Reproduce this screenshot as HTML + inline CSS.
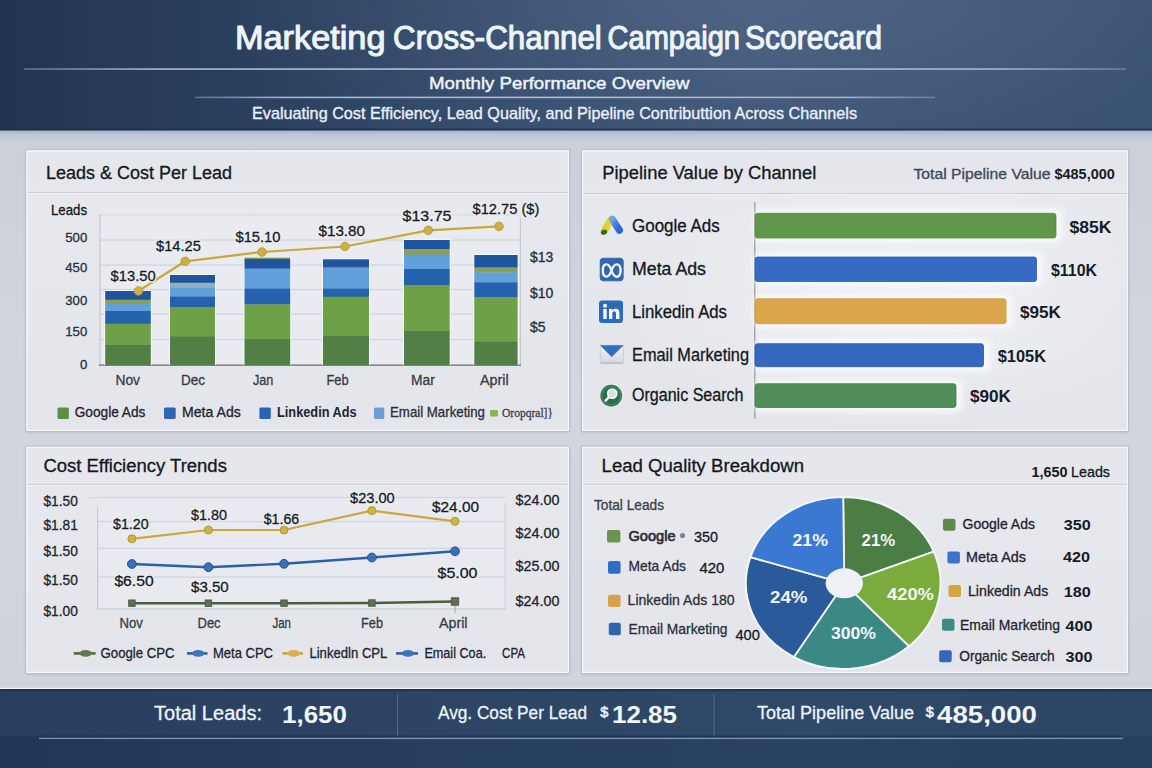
<!DOCTYPE html>
<html><head><meta charset="utf-8"><title>Marketing Cross-Channel Campaign Scorecard</title>
<style>
html,body{margin:0;padding:0;width:1152px;height:768px;overflow:hidden;background:#cfd3dc;font-family:"Liberation Sans", sans-serif;}
svg{display:block;font-family:"Liberation Sans", sans-serif;}
</style></head><body>
<svg width="1152" height="768" viewBox="0 0 1152 768">
<defs>
<linearGradient id="hdr" x1="0" y1="0" x2="1" y2="0">
 <stop offset="0" stop-color="#22344f"/><stop offset="0.2" stop-color="#2a3f5d"/><stop offset="0.45" stop-color="#384f70"/>
 <stop offset="0.65" stop-color="#41587a"/><stop offset="0.85" stop-color="#3e5577"/><stop offset="1" stop-color="#3a5273"/>
</linearGradient>
<radialGradient id="hdrv" cx="0.66" cy="0" r="0.5" gradientTransform="translate(0.66,0) scale(1,2.2) translate(-0.66,0)">
 <stop offset="0" stop-color="#fff" stop-opacity="0.075"/><stop offset="1" stop-color="#fff" stop-opacity="0"/>
</radialGradient>
<linearGradient id="ftr" x1="0" y1="0" x2="1" y2="0">
 <stop offset="0" stop-color="#213659"/><stop offset="0.45" stop-color="#28405f"/><stop offset="0.7" stop-color="#2a4364"/><stop offset="1" stop-color="#27405f"/>
</linearGradient>
<linearGradient id="pg" x1="0" y1="0" x2="0" y2="1">
 <stop offset="0" stop-color="#c6cbd5"/><stop offset="0.5" stop-color="#d2d6df"/><stop offset="1" stop-color="#cdd2db"/>
</linearGradient>
<linearGradient id="panel" x1="0" y1="0" x2="0" y2="1">
 <stop offset="0" stop-color="#e7e9ee"/><stop offset="1" stop-color="#e3e5ea"/>
</linearGradient>
<linearGradient id="hb" x1="0" y1="0" x2="0" y2="1">
 <stop offset="0" stop-color="#a2afc5"/><stop offset="0.35" stop-color="#bfc7d4"/><stop offset="1" stop-color="#c7ccd6" stop-opacity="0"/>
</linearGradient>
<linearGradient id="ftrv" x1="0" y1="0" x2="0" y2="1">
 <stop offset="0" stop-color="#fff" stop-opacity="0.04"/><stop offset="0.6" stop-color="#fff" stop-opacity="0.03"/><stop offset="0.62" stop-color="#000" stop-opacity="0.06"/><stop offset="1" stop-color="#000" stop-opacity="0.08"/>
</linearGradient>
<filter id="glow" x="-10%" y="-60%" width="120%" height="220%"><feGaussianBlur stdDeviation="3"/></filter>
<radialGradient id="pbg" cx="0.55" cy="0.45" r="0.6">
 <stop offset="0" stop-color="#f2f3f6" stop-opacity="0.8"/><stop offset="1" stop-color="#f2f3f6" stop-opacity="0"/>
</radialGradient>
<linearGradient id="hl" x1="0" y1="0" x2="1" y2="0">
 <stop offset="0" stop-color="#8da4c2" stop-opacity="0.5"/><stop offset="0.12" stop-color="#9db2cd"/><stop offset="0.5" stop-color="#abbed7"/><stop offset="0.88" stop-color="#9db2cd"/><stop offset="1" stop-color="#8da4c2" stop-opacity="0.5"/>
</linearGradient>
<filter id="sh" x="-5%" y="-5%" width="110%" height="115%">
 <feDropShadow dx="0" dy="1" stdDeviation="1.5" flood-color="#5a6478" flood-opacity="0.35"/>
</filter>
</defs>
<rect x="0" y="0" width="1152" height="768" fill="url(#pg)"/>

<rect x="0" y="0" width="1152" height="130" fill="url(#hdr)"/>
<rect x="0" y="0" width="1152" height="130" fill="url(#hdrv)"/>
<rect x="0" y="130" width="1152" height="14" fill="url(#hb)"/>
<rect x="0" y="128.6" width="1152" height="2" fill="#1f2f48" opacity="0.85"/>
<rect x="24" y="68.2" width="1102" height="1.7" fill="url(#hl)"/>
<rect x="195" y="96.6" width="740" height="1.6" fill="url(#hl)"/>
<text x="235.0" y="48.5" font-size="33.7" fill="#eef4fb" stroke="#eef4fb" stroke-width="1.1" stroke-linejoin="round" textLength="150.5" lengthAdjust="spacingAndGlyphs">Marketing</text>
<text x="393.1" y="48.5" font-size="33.7" fill="#eef4fb" stroke="#eef4fb" stroke-width="1.1" stroke-linejoin="round" textLength="208.7" lengthAdjust="spacingAndGlyphs">Cross-Channel</text>
<text x="607.5" y="48.5" font-size="33.7" fill="#eef4fb" stroke="#eef4fb" stroke-width="1.1" stroke-linejoin="round" textLength="132.5" lengthAdjust="spacingAndGlyphs">Campaign</text>
<text x="744.9" y="48.5" font-size="33.7" fill="#eef4fb" stroke="#eef4fb" stroke-width="1.1" stroke-linejoin="round" textLength="137.1" lengthAdjust="spacingAndGlyphs">Scorecard</text>
<text x="429" y="89.4" font-size="17" fill="#eef3fa" stroke="#eef3fa" stroke-width="0.45" stroke-linejoin="round" textLength="260.5" lengthAdjust="spacingAndGlyphs">Monthly Performance Overview</text>
<text x="252" y="119.4" font-size="15.7" fill="#e9eff8" stroke="#e9eff8" stroke-width="0.35" stroke-linejoin="round" textLength="605" lengthAdjust="spacingAndGlyphs">Evaluating Cost Efficiency, Lead Quality, and Pipeline Contributtion Across Channels</text>
<rect x="26.3" y="150.3" width="542.8" height="280.7" fill="url(#panel)" filter="url(#sh)"/>
<rect x="26.3" y="150.3" width="542.8" height="41.5" fill="#e5e7ec"/>
<rect x="26.3" y="190.60000000000002" width="542.8" height="1.2" fill="#eef0f3"/>
<rect x="26.3" y="191.8" width="542.8" height="1.3" fill="#cbced7"/>
<rect x="26.3" y="193.10000000000002" width="542.8" height="1.2" fill="#f0f2f6"/>
<rect x="25.8" y="149.8" width="543.8" height="281.7" fill="none" stroke="#b9bec8" stroke-width="1"/>
<rect x="26.900000000000002" y="150.9" width="541.5999999999999" height="279.5" fill="none" stroke="#f6f8fb" stroke-width="1.1"/>
<rect x="582" y="150.3" width="546" height="280.7" fill="url(#panel)" filter="url(#sh)"/>
<rect x="582" y="150.3" width="546" height="42.5" fill="#e5e7ec"/>
<rect x="582" y="191.60000000000002" width="546" height="1.2" fill="#eef0f3"/>
<rect x="582" y="192.8" width="546" height="1.3" fill="#cbced7"/>
<rect x="582" y="194.10000000000002" width="546" height="1.2" fill="#f0f2f6"/>
<rect x="581.5" y="149.8" width="547" height="281.7" fill="none" stroke="#b9bec8" stroke-width="1"/>
<rect x="582.6" y="150.9" width="544.8" height="279.5" fill="none" stroke="#f6f8fb" stroke-width="1.1"/>
<rect x="26.3" y="446.7" width="542.8" height="226.3" fill="url(#panel)" filter="url(#sh)"/>
<rect x="26.3" y="446.7" width="542.8" height="37" fill="#e5e7ec"/>
<rect x="26.3" y="482.5" width="542.8" height="1.2" fill="#eef0f3"/>
<rect x="26.3" y="483.7" width="542.8" height="1.3" fill="#cbced7"/>
<rect x="26.3" y="485.0" width="542.8" height="1.2" fill="#f0f2f6"/>
<rect x="25.8" y="446.2" width="543.8" height="227.3" fill="none" stroke="#b9bec8" stroke-width="1"/>
<rect x="26.900000000000002" y="447.3" width="541.5999999999999" height="225.10000000000002" fill="none" stroke="#f6f8fb" stroke-width="1.1"/>
<rect x="582" y="446.7" width="546" height="226.3" fill="url(#panel)" filter="url(#sh)"/>
<rect x="582" y="446.7" width="546" height="37" fill="#e5e7ec"/>
<rect x="582" y="482.5" width="546" height="1.2" fill="#eef0f3"/>
<rect x="582" y="483.7" width="546" height="1.3" fill="#cbced7"/>
<rect x="582" y="485.0" width="546" height="1.2" fill="#f0f2f6"/>
<rect x="581.5" y="446.2" width="547" height="227.3" fill="none" stroke="#b9bec8" stroke-width="1"/>
<rect x="582.6" y="447.3" width="544.8" height="225.10000000000002" fill="none" stroke="#f6f8fb" stroke-width="1.1"/>
<text x="46" y="179.2" font-size="18" fill="#141821" stroke="#141821" stroke-width="0.3" stroke-linejoin="round" textLength="186" lengthAdjust="spacingAndGlyphs">Leads &amp; Cost Per Lead</text>
<text x="51" y="215.4" font-size="14" fill="#141821" stroke="#141821" stroke-width="0.3" stroke-linejoin="round" textLength="36" lengthAdjust="spacingAndGlyphs">Leads</text>
<rect x="100" y="214.5" width="420.5" height="150.5" fill="#e9ebf1"/>
<rect x="100" y="214.5" width="420.5" height="1" fill="#d3d7df"/>
<rect x="100" y="239.4" width="420" height="1.3" fill="#d0d4dc"/>
<rect x="100" y="264.4" width="420" height="1.3" fill="#d0d4dc"/>
<rect x="100" y="288.9" width="420" height="1.3" fill="#d0d4dc"/>
<rect x="100" y="313.4" width="420" height="1.3" fill="#d0d4dc"/>
<rect x="100" y="338.9" width="420" height="1.3" fill="#d0d4dc"/>
<rect x="99.3" y="214.5" width="1.2" height="151" fill="#c4c8d0"/>
<rect x="519.8" y="218" width="1.2" height="147" fill="#c4c8d0"/>
<rect x="99" y="364.4" width="422" height="1.4" fill="#6f7682"/>
<text x="87.3" y="242.3" font-size="13.2" fill="#2a2f3a" stroke="#2a2f3a" stroke-width="0.3" stroke-linejoin="round" text-anchor="end">500</text>
<text x="87.3" y="272.3" font-size="13.2" fill="#2a2f3a" stroke="#2a2f3a" stroke-width="0.3" stroke-linejoin="round" text-anchor="end">450</text>
<text x="87.3" y="304.6" font-size="13.2" fill="#2a2f3a" stroke="#2a2f3a" stroke-width="0.3" stroke-linejoin="round" text-anchor="end">300</text>
<text x="87.3" y="335.6" font-size="13.2" fill="#2a2f3a" stroke="#2a2f3a" stroke-width="0.3" stroke-linejoin="round" text-anchor="end">150</text>
<text x="87.3" y="368.5" font-size="13.2" fill="#2a2f3a" stroke="#2a2f3a" stroke-width="0.3" stroke-linejoin="round" text-anchor="end">0</text>
<text x="530" y="262" font-size="14" fill="#2a2f3a" stroke="#2a2f3a" stroke-width="0.3" stroke-linejoin="round">$13</text>
<text x="530" y="298" font-size="14" fill="#2a2f3a" stroke="#2a2f3a" stroke-width="0.3" stroke-linejoin="round">$10</text>
<text x="530" y="331.7" font-size="14" fill="#2a2f3a" stroke="#2a2f3a" stroke-width="0.3" stroke-linejoin="round">$5</text>
<rect x="104.2" y="290" width="47.60000000000001" height="75" fill="#f4f6f9"/>
<rect x="105.2" y="291" width="45.60000000000001" height="8.99999999999999" fill="#1f549e"/>
<rect x="105.2" y="299.7" width="45.60000000000001" height="4.600000000000011" fill="#8a9f5c"/>
<rect x="105.2" y="304" width="45.60000000000001" height="7.3" fill="#62a0db"/>
<rect x="105.2" y="311" width="45.60000000000001" height="12.99999999999999" fill="#2462ae"/>
<rect x="105.2" y="323.7" width="45.60000000000001" height="21.600000000000012" fill="#6ea047"/>
<rect x="105.2" y="345" width="45.60000000000001" height="20.3" fill="#527f46"/>
<rect x="169" y="274" width="47" height="91" fill="#f4f6f9"/>
<rect x="170" y="275" width="45" height="8.100000000000012" fill="#1f549e"/>
<rect x="170" y="282.8" width="45" height="4.9999999999999885" fill="#8fb0c2"/>
<rect x="170" y="287.5" width="45" height="9.3" fill="#62a0db"/>
<rect x="170" y="296.5" width="45" height="10.8" fill="#2462ae"/>
<rect x="170" y="307" width="45" height="29.99999999999999" fill="#6ea047"/>
<rect x="170" y="336.7" width="45" height="28.600000000000012" fill="#527f46"/>
<rect x="243.5" y="256.5" width="47.69999999999999" height="108.5" fill="#f4f6f9"/>
<rect x="244.5" y="257.5" width="45.69999999999999" height="1.8" fill="#8a9f5c"/>
<rect x="244.5" y="259" width="45.69999999999999" height="9.900000000000023" fill="#1f549e"/>
<rect x="244.5" y="268.6" width="45.69999999999999" height="20.199999999999978" fill="#62a0db"/>
<rect x="244.5" y="288.5" width="45.69999999999999" height="16.199999999999978" fill="#2462ae"/>
<rect x="244.5" y="304.4" width="45.69999999999999" height="34.90000000000002" fill="#6ea047"/>
<rect x="244.5" y="339" width="45.69999999999999" height="26.3" fill="#527f46"/>
<rect x="322" y="258.3" width="48" height="106.69999999999999" fill="#f4f6f9"/>
<rect x="323" y="259.3" width="46" height="8.49999999999999" fill="#1f549e"/>
<rect x="323" y="267.5" width="46" height="21.3" fill="#62a0db"/>
<rect x="323" y="288.5" width="46" height="8.49999999999999" fill="#2462ae"/>
<rect x="323" y="296.7" width="46" height="39.60000000000001" fill="#6ea047"/>
<rect x="323" y="336" width="46" height="29.3" fill="#527f46"/>
<rect x="403" y="239" width="47.69999999999999" height="126" fill="#f4f6f9"/>
<rect x="404" y="240" width="45.69999999999999" height="9.3" fill="#1f549e"/>
<rect x="404" y="249" width="45.69999999999999" height="5.9999999999999885" fill="#8a9f5c"/>
<rect x="404" y="254.7" width="45.69999999999999" height="14.600000000000012" fill="#62a0db"/>
<rect x="404" y="269" width="45.69999999999999" height="16.3" fill="#2462ae"/>
<rect x="404" y="285" width="45.69999999999999" height="46.3" fill="#6ea047"/>
<rect x="404" y="331" width="45.69999999999999" height="34.3" fill="#527f46"/>
<rect x="473.3" y="254" width="45.30000000000001" height="111" fill="#f4f6f9"/>
<rect x="474.3" y="255" width="43.30000000000001" height="12.8" fill="#1f549e"/>
<rect x="474.3" y="267.5" width="43.30000000000001" height="5.3" fill="#8a9f5c"/>
<rect x="474.3" y="272.5" width="43.30000000000001" height="10.100000000000012" fill="#62a0db"/>
<rect x="474.3" y="282.3" width="43.30000000000001" height="14.99999999999999" fill="#2462ae"/>
<rect x="474.3" y="297" width="43.30000000000001" height="44.60000000000001" fill="#6ea047"/>
<rect x="474.3" y="341.3" width="43.30000000000001" height="23.99999999999999" fill="#527f46"/>
<path d="M138.4,291 L185.2,261.3 L262,252 L345,246.5 L428.3,230.3 L499,226.4" fill="none" stroke="#c9a83a" stroke-width="2.2" stroke-linejoin="round"/>
<circle cx="138.4" cy="291" r="4.3" fill="#cdb146" stroke="#b39631" stroke-width="0.8"/>
<circle cx="185.2" cy="261.3" r="4.3" fill="#cdb146" stroke="#b39631" stroke-width="0.8"/>
<circle cx="262" cy="252" r="4.3" fill="#cdb146" stroke="#b39631" stroke-width="0.8"/>
<circle cx="345" cy="246.5" r="4.3" fill="#cdb146" stroke="#b39631" stroke-width="0.8"/>
<circle cx="428.3" cy="230.3" r="4.3" fill="#cdb146" stroke="#b39631" stroke-width="0.8"/>
<circle cx="499" cy="226.4" r="4.3" fill="#cdb146" stroke="#b39631" stroke-width="0.8"/>
<text x="110.6" y="280.5" font-size="15.5" fill="#eceef2" stroke="#eceef2" stroke-width="3.5" stroke-linejoin="round" textLength="45" lengthAdjust="spacingAndGlyphs" opacity="0.85">$13.50</text>
<text x="110.6" y="280.5" font-size="15.5" fill="#161b26" stroke="#161b26" stroke-width="0.3" stroke-linejoin="round" textLength="45" lengthAdjust="spacingAndGlyphs">$13.50</text>
<text x="156" y="251" font-size="15.5" fill="#eceef2" stroke="#eceef2" stroke-width="3.5" stroke-linejoin="round" textLength="44.8" lengthAdjust="spacingAndGlyphs" opacity="0.85">$14.25</text>
<text x="156" y="251" font-size="15.5" fill="#161b26" stroke="#161b26" stroke-width="0.3" stroke-linejoin="round" textLength="44.8" lengthAdjust="spacingAndGlyphs">$14.25</text>
<text x="235.5" y="242" font-size="15.5" fill="#eceef2" stroke="#eceef2" stroke-width="3.5" stroke-linejoin="round" textLength="44.9" lengthAdjust="spacingAndGlyphs" opacity="0.85">$15.10</text>
<text x="235.5" y="242" font-size="15.5" fill="#161b26" stroke="#161b26" stroke-width="0.3" stroke-linejoin="round" textLength="44.9" lengthAdjust="spacingAndGlyphs">$15.10</text>
<text x="318.5" y="235.8" font-size="15.5" fill="#eceef2" stroke="#eceef2" stroke-width="3.5" stroke-linejoin="round" textLength="46.5" lengthAdjust="spacingAndGlyphs" opacity="0.85">$13.80</text>
<text x="318.5" y="235.8" font-size="15.5" fill="#161b26" stroke="#161b26" stroke-width="0.3" stroke-linejoin="round" textLength="46.5" lengthAdjust="spacingAndGlyphs">$13.80</text>
<text x="402.5" y="221.2" font-size="15.5" fill="#eceef2" stroke="#eceef2" stroke-width="3.5" stroke-linejoin="round" textLength="49" lengthAdjust="spacingAndGlyphs" opacity="0.85">$13.75</text>
<text x="402.5" y="221.2" font-size="15.5" fill="#161b26" stroke="#161b26" stroke-width="0.3" stroke-linejoin="round" textLength="49" lengthAdjust="spacingAndGlyphs">$13.75</text>
<text x="472.5" y="214.4" font-size="15.5" fill="#eceef2" stroke="#eceef2" stroke-width="3.5" stroke-linejoin="round" textLength="66.8" lengthAdjust="spacingAndGlyphs" opacity="0.85">$12.75 ($)</text>
<text x="472.5" y="214.4" font-size="15.5" fill="#161b26" stroke="#161b26" stroke-width="0.3" stroke-linejoin="round" textLength="66.8" lengthAdjust="spacingAndGlyphs">$12.75 ($)</text>
<text x="115.4" y="384.8" font-size="14" fill="#363b47" stroke="#363b47" stroke-width="0.3" stroke-linejoin="round" textLength="24.6" lengthAdjust="spacingAndGlyphs">Nov</text>
<text x="181" y="384.8" font-size="14" fill="#363b47" stroke="#363b47" stroke-width="0.3" stroke-linejoin="round" textLength="24" lengthAdjust="spacingAndGlyphs">Dec</text>
<text x="253" y="384.8" font-size="14" fill="#363b47" stroke="#363b47" stroke-width="0.3" stroke-linejoin="round" textLength="20.4" lengthAdjust="spacingAndGlyphs">Jan</text>
<text x="326.4" y="384.8" font-size="14" fill="#363b47" stroke="#363b47" stroke-width="0.3" stroke-linejoin="round" textLength="22.2" lengthAdjust="spacingAndGlyphs">Feb</text>
<text x="411" y="384.8" font-size="14" fill="#363b47" stroke="#363b47" stroke-width="0.3" stroke-linejoin="round" textLength="23.8" lengthAdjust="spacingAndGlyphs">Mar</text>
<text x="480" y="384.8" font-size="14" fill="#363b47" stroke="#363b47" stroke-width="0.3" stroke-linejoin="round" textLength="28.6" lengthAdjust="spacingAndGlyphs">April</text>
<rect x="57.5" y="407.6" width="11.4" height="11.4" rx="1.5" fill="#5e8f45"/>
<text x="74.7" y="417.4" font-size="14" fill="#1f2430" stroke="#1f2430" stroke-width="0.3" stroke-linejoin="round" textLength="70.7" lengthAdjust="spacingAndGlyphs">Google Ads</text>
<rect x="164" y="407.6" width="11.7" height="11.4" rx="1.5" fill="#2f66ad"/>
<text x="182" y="417.4" font-size="14" fill="#1f2430" stroke="#1f2430" stroke-width="0.3" stroke-linejoin="round" textLength="58.8" lengthAdjust="spacingAndGlyphs">Meta Ads</text>
<rect x="259.4" y="407.6" width="11.4" height="11.4" rx="1.5" fill="#2964b4"/>
<text x="277" y="417.4" font-size="14" fill="#1f2430" font-weight="700" textLength="79.7" lengthAdjust="spacingAndGlyphs">Linkedin Ads</text>
<rect x="374" y="407.6" width="10.3" height="11.4" rx="1.5" fill="#6a9fd6"/>
<text x="390" y="417.4" font-size="14" fill="#2a2f3a" stroke="#2a2f3a" stroke-width="0.3" stroke-linejoin="round" textLength="95" lengthAdjust="spacingAndGlyphs">Email Marketing</text>
<rect x="490" y="410" width="8" height="6.5" rx="1" fill="#8cb84a"/>
<text x="502" y="417" font-size="12.5" fill="#3a3f4a" stroke="#3a3f4a" stroke-width="0.3" stroke-linejoin="round" textLength="51" lengthAdjust="spacingAndGlyphs" font-family="Liberation Serif, serif">Oropqral]}</text>
<text x="602.3" y="179.3" font-size="18" fill="#141821" stroke="#141821" stroke-width="0.3" stroke-linejoin="round" textLength="214" lengthAdjust="spacingAndGlyphs">Pipeline Value by Channel</text>
<text x="913.5" y="179.3" font-size="15" fill="#404653" stroke="#404653" stroke-width="0.3" stroke-linejoin="round" textLength="137" lengthAdjust="spacingAndGlyphs">Total Pipeline Value</text>
<text x="1054.5" y="179.3" font-size="15" fill="#161b26" font-weight="700" textLength="60.3" lengthAdjust="spacingAndGlyphs">$485,000</text>
<rect x="640" y="196" width="480" height="230" fill="url(#pbg)"/>
<rect x="754.2" y="202" width="1.2" height="217" fill="#8c919b"/>
<rect x="755" y="209.3" width="307" height="32.69999999999999" rx="4" fill="#fbfcfd" opacity="0.9" filter="url(#glow)"/>
<rect x="755" y="213.3" width="301" height="24.69999999999999" rx="2.5" fill="#60964a" stroke="#538a3f" stroke-width="0.8"/>
<text x="1069.5" y="232.5" font-size="17" fill="#161b26" font-weight="700" textLength="42" lengthAdjust="spacingAndGlyphs">$85K</text>
<rect x="755" y="253" width="287.5" height="32.5" rx="4" fill="#fbfcfd" opacity="0.9" filter="url(#glow)"/>
<rect x="755" y="257" width="281.5" height="24.5" rx="2.5" fill="#356bc2" stroke="#2858a6" stroke-width="0.8"/>
<text x="1051" y="276" font-size="17" fill="#161b26" font-weight="700" textLength="46" lengthAdjust="spacingAndGlyphs">$110K</text>
<rect x="755" y="294.7" width="257" height="33.0" rx="4" fill="#fbfcfd" opacity="0.9" filter="url(#glow)"/>
<rect x="755" y="298.7" width="251" height="25.0" rx="2.5" fill="#dba64a" stroke="#cf983d" stroke-width="0.8"/>
<text x="1020" y="318" font-size="17" fill="#161b26" font-weight="700" textLength="41" lengthAdjust="spacingAndGlyphs">$95K</text>
<rect x="755" y="339.7" width="234.5" height="31.0" rx="4" fill="#fbfcfd" opacity="0.9" filter="url(#glow)"/>
<rect x="755" y="343.7" width="228.5" height="23.0" rx="2.5" fill="#3569c0" stroke="#2858a6" stroke-width="0.8"/>
<text x="997.7" y="362" font-size="17" fill="#161b26" font-weight="700" textLength="48.3" lengthAdjust="spacingAndGlyphs">$105K</text>
<rect x="755" y="379.7" width="207" height="31.80000000000001" rx="4" fill="#fbfcfd" opacity="0.9" filter="url(#glow)"/>
<rect x="755" y="383.7" width="201" height="23.80000000000001" rx="2.5" fill="#528c5a" stroke="#467d4e" stroke-width="0.8"/>
<text x="970" y="402" font-size="17" fill="#161b26" font-weight="700" textLength="41" lengthAdjust="spacingAndGlyphs">$90K</text>
<text x="632" y="232" font-size="17.5" fill="#141821" stroke="#141821" stroke-width="0.3" stroke-linejoin="round" textLength="87.7" lengthAdjust="spacingAndGlyphs">Google Ads</text>
<text x="632" y="275" font-size="17.5" fill="#141821" stroke="#141821" stroke-width="0.3" stroke-linejoin="round" textLength="74" lengthAdjust="spacingAndGlyphs">Meta Ads</text>
<text x="632" y="318" font-size="17.5" fill="#141821" stroke="#141821" stroke-width="0.3" stroke-linejoin="round" textLength="95" lengthAdjust="spacingAndGlyphs">Linkedin Ads</text>
<text x="632" y="360.5" font-size="17.5" fill="#141821" stroke="#141821" stroke-width="0.3" stroke-linejoin="round" textLength="117" lengthAdjust="spacingAndGlyphs">Email Marketing</text>
<text x="632" y="401" font-size="17.5" fill="#141821" stroke="#141821" stroke-width="0.3" stroke-linejoin="round" textLength="111.5" lengthAdjust="spacingAndGlyphs">Organic Search</text>
<linearGradient id="gab" x1="0" y1="0" x2="1" y2="1"><stop offset="0" stop-color="#74a6e4"/><stop offset="0.45" stop-color="#3f7fdf"/><stop offset="1" stop-color="#2c66d6"/></linearGradient>
<linearGradient id="gay" x1="0" y1="1" x2="1" y2="0"><stop offset="0" stop-color="#d8cc2a"/><stop offset="1" stop-color="#f0d43a"/></linearGradient>
<path d="M604.2,231.2 L610.8,219.6" stroke="url(#gay)" stroke-width="7" stroke-linecap="round"/>
<path d="M612.4,219.4 L619.4,230.2" stroke="url(#gab)" stroke-width="7.2" stroke-linecap="round"/>
<ellipse cx="604" cy="232.2" rx="3.2" ry="2.4" fill="#2f6b2c" transform="rotate(-20 604 232.2)"/>
<g transform="translate(600.2,258.2)"><rect x="0" y="0" width="23" height="22.6" rx="3" fill="#3167b2" stroke="#2a5a9e" stroke-width="0.8"/><path d="M11.3,12.4 C9.8,7.5 7.8,6 5.8,6.2 C3.6,6.4 2.6,9.2 2.6,12.4 C2.6,15.8 4,18.4 6.2,18.4 C8.2,18.4 9.8,16.5 11.3,12.4 C12.8,8.3 14.5,6.2 16.6,6.2 C18.8,6.2 20.4,8.8 20.4,12.4 C20.4,16 18.8,18.6 16.6,18.6 C14.5,18.6 12.8,16.5 11.3,12.4 Z" fill="none" stroke="#f4f7fb" stroke-width="2.4"/></g>
<g transform="translate(599,300.5)"><rect x="0" y="0" width="24" height="22.5" rx="3" fill="#2a6cb6"/><rect x="4.3" y="8.5" width="3.4" height="10" fill="#fff"/><circle cx="6" cy="5.3" r="2" fill="#fff"/><path d="M10,8.5 h3.2 v1.6 c0.8,-1.3 2,-1.9 3.6,-1.9 c2.6,0 3.6,1.6 3.6,4.4 v5.9 h-3.4 v-5.4 c0,-1.4 -0.4,-2.3 -1.7,-2.3 c-1.4,0 -2,1 -2,2.4 v5.3 h-3.3 Z" fill="#fff"/></g>
<linearGradient id="env" x1="0" y1="0" x2="0" y2="1"><stop offset="0" stop-color="#f1f3f7"/><stop offset="1" stop-color="#d3d7df"/></linearGradient>
<g transform="translate(600.3,345)"><rect x="0" y="0.3" width="23" height="18.4" rx="1" fill="url(#env)" stroke="#c2c7d0" stroke-width="0.8"/><rect x="0.4" y="17.2" width="22.2" height="1.4" fill="#b9bec8"/><path d="M0.2,0.3 L22.8,0.3 L11.5,11.6 Z" fill="#2f6fc0"/><path d="M0.2,0.3 L11.5,11.6 L22.8,0.3" fill="none" stroke="#2a5fa8" stroke-width="0.8"/></g>
<g transform="translate(611.2,395.6)"><circle cx="0" cy="0" r="10.8" fill="#2c6d4c"/><circle cx="0" cy="0" r="9.3" fill="none" stroke="#3d8a62" stroke-width="1.2"/><circle cx="1" cy="-2" r="4.6" fill="#cfe5d6" stroke="#fff" stroke-width="1.6"/><path d="M-2.4,1.6 L-5.6,5" stroke="#fff" stroke-width="2.4" stroke-linecap="round"/></g>
<text x="43.4" y="472.2" font-size="18" fill="#141821" stroke="#141821" stroke-width="0.3" stroke-linejoin="round" textLength="183.5" lengthAdjust="spacingAndGlyphs">Cost Efficiency Trends</text>
<rect x="97.5" y="497.5" width="408" height="111.5" fill="#e8eaf0"/>
<rect x="87" y="496.9" width="418.5" height="1.3" fill="#d2d6de"/>
<rect x="97.5" y="520.9" width="408.0" height="1.3" fill="#d2d6de"/>
<rect x="97.5" y="547.6999999999999" width="408.0" height="1.3" fill="#d2d6de"/>
<rect x="97.5" y="576.4" width="408.0" height="1.3" fill="#d2d6de"/>
<rect x="97" y="507" width="1.2" height="102" fill="#c6cad2"/>
<rect x="504.5" y="503" width="1.2" height="106" fill="#ced2da"/>
<rect x="97" y="608.3" width="409" height="1.3" fill="#c9cdd5"/>
<text x="43.4" y="506.3" font-size="14.5" fill="#1f2430" stroke="#1f2430" stroke-width="0.3" stroke-linejoin="round" textLength="34.4" lengthAdjust="spacingAndGlyphs">$1.50</text>
<text x="43.4" y="530" font-size="14.5" fill="#1f2430" stroke="#1f2430" stroke-width="0.3" stroke-linejoin="round" textLength="34.4" lengthAdjust="spacingAndGlyphs">$1.81</text>
<text x="43.4" y="556.3" font-size="14.5" fill="#1f2430" stroke="#1f2430" stroke-width="0.3" stroke-linejoin="round" textLength="34.4" lengthAdjust="spacingAndGlyphs">$1.50</text>
<text x="43.4" y="585.3" font-size="14.5" fill="#1f2430" stroke="#1f2430" stroke-width="0.3" stroke-linejoin="round" textLength="34.4" lengthAdjust="spacingAndGlyphs">$1.50</text>
<text x="43.4" y="616" font-size="14.5" fill="#1f2430" stroke="#1f2430" stroke-width="0.3" stroke-linejoin="round" textLength="34.4" lengthAdjust="spacingAndGlyphs">$1.00</text>
<text x="515.6" y="505" font-size="14.5" fill="#1f2430" stroke="#1f2430" stroke-width="0.3" stroke-linejoin="round" textLength="43.8" lengthAdjust="spacingAndGlyphs">$24.00</text>
<text x="515.6" y="537.5" font-size="14.5" fill="#1f2430" stroke="#1f2430" stroke-width="0.3" stroke-linejoin="round" textLength="43.8" lengthAdjust="spacingAndGlyphs">$24.00</text>
<text x="515.6" y="571.3" font-size="14.5" fill="#1f2430" stroke="#1f2430" stroke-width="0.3" stroke-linejoin="round" textLength="43.8" lengthAdjust="spacingAndGlyphs">$25.00</text>
<text x="515.6" y="605.6" font-size="14.5" fill="#1f2430" stroke="#1f2430" stroke-width="0.3" stroke-linejoin="round" textLength="43.8" lengthAdjust="spacingAndGlyphs">$24.00</text>
<rect x="454.6" y="601" width="0.9" height="12" fill="#9aa0aa"/>
<path d="M131.9,603.2 L208.4,603.2 L284,603.2 L371.9,603 L455,601.5" fill="none" stroke="#4b5f3e" stroke-width="2.6" stroke-linejoin="round"/>
<rect x="128.65" y="599.95" width="6.5" height="6.5" fill="#5e7052" stroke="#46573c" stroke-width="0.8"/>
<rect x="205.15" y="599.95" width="6.5" height="6.5" fill="#5e7052" stroke="#46573c" stroke-width="0.8"/>
<rect x="280.75" y="599.95" width="6.5" height="6.5" fill="#5e7052" stroke="#46573c" stroke-width="0.8"/>
<rect x="368.65" y="599.75" width="6.5" height="6.5" fill="#5e7052" stroke="#46573c" stroke-width="0.8"/>
<rect x="451.25" y="597.75" width="7.5" height="7.5" fill="#5e7052" stroke="#46573c" stroke-width="0.8"/>
<path d="M131.9,538.8 L208.4,530 L284,530 L371.9,510.6 L455,521.3" fill="none" stroke="#cfa63e" stroke-width="2.2" stroke-linejoin="round"/>
<circle cx="131.9" cy="538.8" r="4" fill="#cdb443" stroke="#aa9430" stroke-width="0.9"/>
<circle cx="208.4" cy="530" r="4" fill="#cdb443" stroke="#aa9430" stroke-width="0.9"/>
<circle cx="284" cy="530" r="4" fill="#cdb443" stroke="#aa9430" stroke-width="0.9"/>
<circle cx="371.9" cy="510.6" r="4" fill="#cdb443" stroke="#aa9430" stroke-width="0.9"/>
<circle cx="455" cy="521.3" r="4" fill="#cdb443" stroke="#aa9430" stroke-width="0.9"/>
<path d="M131.9,564 L208.4,567.2 L284,563.8 L371.9,557.5 L455,551.3" fill="none" stroke="#2a60a8" stroke-width="2.4" stroke-linejoin="round"/>
<circle cx="131.9" cy="564" r="4.4" fill="#3b70b6" stroke="#24548f" stroke-width="1"/>
<circle cx="208.4" cy="567.2" r="4.4" fill="#3b70b6" stroke="#24548f" stroke-width="1"/>
<circle cx="284" cy="563.8" r="4.4" fill="#3b70b6" stroke="#24548f" stroke-width="1"/>
<circle cx="371.9" cy="557.5" r="4.4" fill="#3b70b6" stroke="#24548f" stroke-width="1"/>
<circle cx="455" cy="551.3" r="4.4" fill="#3b70b6" stroke="#24548f" stroke-width="1"/>
<text x="113" y="529" font-size="15.5" fill="#eceef2" stroke="#eceef2" stroke-width="3.5" stroke-linejoin="round" textLength="35.7" lengthAdjust="spacingAndGlyphs" opacity="0.85">$1.20</text>
<text x="113" y="529" font-size="15.5" fill="#161b26" stroke="#161b26" stroke-width="0.3" stroke-linejoin="round" textLength="35.7" lengthAdjust="spacingAndGlyphs">$1.20</text>
<text x="191" y="519.7" font-size="15.5" fill="#eceef2" stroke="#eceef2" stroke-width="3.5" stroke-linejoin="round" textLength="36" lengthAdjust="spacingAndGlyphs" opacity="0.85">$1.80</text>
<text x="191" y="519.7" font-size="15.5" fill="#161b26" stroke="#161b26" stroke-width="0.3" stroke-linejoin="round" textLength="36" lengthAdjust="spacingAndGlyphs">$1.80</text>
<text x="263.7" y="523.7" font-size="15.5" fill="#eceef2" stroke="#eceef2" stroke-width="3.5" stroke-linejoin="round" textLength="35.5" lengthAdjust="spacingAndGlyphs" opacity="0.85">$1.66</text>
<text x="263.7" y="523.7" font-size="15.5" fill="#161b26" stroke="#161b26" stroke-width="0.3" stroke-linejoin="round" textLength="35.5" lengthAdjust="spacingAndGlyphs">$1.66</text>
<text x="350" y="502.5" font-size="15.5" fill="#eceef2" stroke="#eceef2" stroke-width="3.5" stroke-linejoin="round" textLength="44.7" lengthAdjust="spacingAndGlyphs" opacity="0.85">$23.00</text>
<text x="350" y="502.5" font-size="15.5" fill="#161b26" stroke="#161b26" stroke-width="0.3" stroke-linejoin="round" textLength="44.7" lengthAdjust="spacingAndGlyphs">$23.00</text>
<text x="432" y="511.9" font-size="15.5" fill="#eceef2" stroke="#eceef2" stroke-width="3.5" stroke-linejoin="round" textLength="47" lengthAdjust="spacingAndGlyphs" opacity="0.85">$24.00</text>
<text x="432" y="511.9" font-size="15.5" fill="#161b26" stroke="#161b26" stroke-width="0.3" stroke-linejoin="round" textLength="47" lengthAdjust="spacingAndGlyphs">$24.00</text>
<text x="114.4" y="586.3" font-size="15.5" fill="#eceef2" stroke="#eceef2" stroke-width="3.5" stroke-linejoin="round" textLength="39.3" lengthAdjust="spacingAndGlyphs" opacity="0.85">$6.50</text>
<text x="114.4" y="586.3" font-size="15.5" fill="#161b26" stroke="#161b26" stroke-width="0.3" stroke-linejoin="round" textLength="39.3" lengthAdjust="spacingAndGlyphs">$6.50</text>
<text x="191" y="592.2" font-size="15.5" fill="#eceef2" stroke="#eceef2" stroke-width="3.5" stroke-linejoin="round" textLength="37.7" lengthAdjust="spacingAndGlyphs" opacity="0.85">$3.50</text>
<text x="191" y="592.2" font-size="15.5" fill="#161b26" stroke="#161b26" stroke-width="0.3" stroke-linejoin="round" textLength="37.7" lengthAdjust="spacingAndGlyphs">$3.50</text>
<text x="437.5" y="577.5" font-size="15.5" fill="#eceef2" stroke="#eceef2" stroke-width="3.5" stroke-linejoin="round" textLength="40" lengthAdjust="spacingAndGlyphs" opacity="0.85">$5.00</text>
<text x="437.5" y="577.5" font-size="15.5" fill="#161b26" stroke="#161b26" stroke-width="0.3" stroke-linejoin="round" textLength="40" lengthAdjust="spacingAndGlyphs">$5.00</text>
<text x="119.4" y="627.5" font-size="14" fill="#363b47" stroke="#363b47" stroke-width="0.3" stroke-linejoin="round" textLength="23.4" lengthAdjust="spacingAndGlyphs">Nov</text>
<text x="197.5" y="627.5" font-size="14" fill="#363b47" stroke="#363b47" stroke-width="0.3" stroke-linejoin="round" textLength="23.1" lengthAdjust="spacingAndGlyphs">Dec</text>
<text x="272.5" y="627.5" font-size="14" fill="#363b47" stroke="#363b47" stroke-width="0.3" stroke-linejoin="round" textLength="18.5" lengthAdjust="spacingAndGlyphs">Jan</text>
<text x="361" y="627.5" font-size="14" fill="#363b47" stroke="#363b47" stroke-width="0.3" stroke-linejoin="round" textLength="22" lengthAdjust="spacingAndGlyphs">Feb</text>
<text x="439" y="627.5" font-size="14" fill="#363b47" stroke="#363b47" stroke-width="0.3" stroke-linejoin="round" textLength="28.5" lengthAdjust="spacingAndGlyphs">April</text>
<path d="M73.7,653.4 L95.6,653.4" stroke="#4a6b35" stroke-width="2.6"/>
<ellipse cx="85.65" cy="653.4" rx="6.2" ry="3.4" fill="#5f7b4a"/>
<text x="100.6" y="658" font-size="14.5" fill="#1f2430" stroke="#1f2430" stroke-width="0.3" stroke-linejoin="round" textLength="74" lengthAdjust="spacingAndGlyphs">Google CPC</text>
<path d="M187,653.4 L207.5,653.4" stroke="#2a60a8" stroke-width="2.6"/>
<ellipse cx="198.25" cy="653.4" rx="6.2" ry="3.4" fill="#3f73ba"/>
<text x="213" y="658" font-size="14.5" fill="#1f2430" stroke="#1f2430" stroke-width="0.3" stroke-linejoin="round" textLength="60" lengthAdjust="spacingAndGlyphs">Meta CPC</text>
<path d="M282.5,653.4 L303,653.4" stroke="#c9a83a" stroke-width="2.6"/>
<ellipse cx="293.75" cy="653.4" rx="6.2" ry="3.4" fill="#d6b04a"/>
<text x="309.4" y="658" font-size="14.5" fill="#1f2430" stroke="#1f2430" stroke-width="0.3" stroke-linejoin="round" textLength="78" lengthAdjust="spacingAndGlyphs">Linkedln CPL</text>
<path d="M396,653.4 L418,653.4" stroke="#2a60a8" stroke-width="2.6"/>
<ellipse cx="408.0" cy="653.4" rx="6.2" ry="3.4" fill="#3f73ba"/>
<text x="424.4" y="658" font-size="14.5" fill="#1f2430" stroke="#1f2430" stroke-width="0.3" stroke-linejoin="round" textLength="61.8" lengthAdjust="spacingAndGlyphs">Email Coa.</text>
<text x="502" y="658" font-size="14.5" fill="#1f2430" stroke="#1f2430" stroke-width="0.3" stroke-linejoin="round" textLength="23" lengthAdjust="spacingAndGlyphs">CPA</text>
<text x="601.6" y="472.2" font-size="18" fill="#141821" stroke="#141821" stroke-width="0.3" stroke-linejoin="round" textLength="202.4" lengthAdjust="spacingAndGlyphs">Lead Quality Breakdown</text>
<text x="1031.5" y="476.5" font-size="15" fill="#141821" font-weight="700" textLength="36" lengthAdjust="spacingAndGlyphs">1,650</text>
<text x="1071" y="476.5" font-size="15" fill="#141821" stroke="#141821" stroke-width="0.3" stroke-linejoin="round" textLength="39" lengthAdjust="spacingAndGlyphs">Leads</text>
<text x="594" y="510" font-size="14.5" fill="#3b404c" stroke="#3b404c" stroke-width="0.3" stroke-linejoin="round" textLength="70" lengthAdjust="spacingAndGlyphs">Total Leads</text>
<rect x="607" y="530" width="13.4" height="12.5" rx="2" fill="#6a9350"/>
<text x="628.5" y="540.6" font-size="15" fill="#2a2f3a" stroke="#2a2f3a" stroke-width="0.7" stroke-linejoin="round" textLength="47" lengthAdjust="spacingAndGlyphs">Google</text>
<circle cx="682.5" cy="535.5" r="2.6" fill="#7d8590"/>
<text x="694" y="541.6" font-size="15" fill="#141821" stroke="#141821" stroke-width="0.3" stroke-linejoin="round" textLength="24" lengthAdjust="spacingAndGlyphs">350</text>
<rect x="608" y="561" width="12.6" height="12.7" rx="2" fill="#2f6ec4"/>
<text x="628.5" y="571.3" font-size="15" fill="#2a2f3a" stroke="#2a2f3a" stroke-width="0.3" stroke-linejoin="round" textLength="57.5" lengthAdjust="spacingAndGlyphs">Meta Ads</text>
<text x="699.4" y="572.8" font-size="15" fill="#141821" stroke="#141821" stroke-width="0.3" stroke-linejoin="round" textLength="25" lengthAdjust="spacingAndGlyphs">420</text>
<rect x="608" y="594.7" width="12.6" height="12.3" rx="2" fill="#d6a448"/>
<text x="627.6" y="605" font-size="15" fill="#2a2f3a" stroke="#2a2f3a" stroke-width="0.3" stroke-linejoin="round" textLength="107" lengthAdjust="spacingAndGlyphs">Linkedin Ads 180</text>
<rect x="608.8" y="622.8" width="12" height="12.5" rx="2" fill="#2f65ad"/>
<text x="628.5" y="633.7" font-size="15" fill="#2a2f3a" stroke="#2a2f3a" stroke-width="0.3" stroke-linejoin="round" textLength="99" lengthAdjust="spacingAndGlyphs">Email Marketing</text>
<text x="735.4" y="640" font-size="15" fill="#141821" stroke="#141821" stroke-width="0.3" stroke-linejoin="round" textLength="24.4" lengthAdjust="spacingAndGlyphs">400</text>
<ellipse cx="843.2" cy="583.0" rx="98.4" ry="87.0" fill="#f3f5f8"/>
<path d="M844.3,583.3 L843.20,497.20 A97.2,85.8 0 0 1 933.64,551.55 Z" fill="#4b7e45" stroke="#f3f6f9" stroke-width="1.8" stroke-linejoin="round"/>
<path d="M844.3,583.3 L933.64,551.55 A97.2,85.8 0 0 1 908.87,646.26 Z" fill="#7bab3d" stroke="#f3f6f9" stroke-width="1.8" stroke-linejoin="round"/>
<path d="M844.3,583.3 L908.87,646.26 A97.2,85.8 0 0 1 793.87,656.93 Z" fill="#3a8985" stroke="#f3f6f9" stroke-width="1.8" stroke-linejoin="round"/>
<path d="M844.3,583.3 L793.87,656.93 A97.2,85.8 0 0 1 750.50,557.20 Z" fill="#2b5a9b" stroke="#f3f6f9" stroke-width="1.8" stroke-linejoin="round"/>
<path d="M844.3,583.3 L750.50,557.20 A97.2,85.8 0 0 1 843.20,497.20 Z" fill="#3b78d1" stroke="#f3f6f9" stroke-width="1.8" stroke-linejoin="round"/>
<ellipse cx="844.3" cy="583.3" rx="18.7" ry="15" fill="#eef1f5"/>
<text x="792.5" y="545.9" font-size="16.5" fill="#f3f6fa" font-weight="700" textLength="35.5" lengthAdjust="spacingAndGlyphs">21%</text>
<text x="861.6" y="545.9" font-size="16.5" fill="#f3f6fa" font-weight="700" textLength="33.7" lengthAdjust="spacingAndGlyphs">21%</text>
<text x="887" y="600.3" font-size="16.5" fill="#f3f6fa" font-weight="700" textLength="46.9" lengthAdjust="spacingAndGlyphs">420%</text>
<text x="770" y="602.7" font-size="16.5" fill="#f3f6fa" font-weight="700" textLength="37.4" lengthAdjust="spacingAndGlyphs">24%</text>
<text x="831" y="638.8" font-size="16.5" fill="#f3f6fa" font-weight="700" textLength="45" lengthAdjust="spacingAndGlyphs">300%</text>
<rect x="943" y="518.7" width="12.5" height="12" rx="2" fill="#5f8a4a"/>
<text x="962.5" y="528.7" font-size="15" fill="#1f2430" stroke="#1f2430" stroke-width="0.3" stroke-linejoin="round" textLength="72.5" lengthAdjust="spacingAndGlyphs">Google Ads</text>
<text x="1063.7" y="530" font-size="15.5" fill="#161b26" font-weight="700" textLength="27" lengthAdjust="spacingAndGlyphs">350</text>
<rect x="947.4" y="551.6" width="12.5" height="12" rx="2" fill="#3a74cc"/>
<text x="966" y="561.6" font-size="15" fill="#1f2430" stroke="#1f2430" stroke-width="0.3" stroke-linejoin="round" textLength="60" lengthAdjust="spacingAndGlyphs">Meta Ads</text>
<text x="1063" y="562.3" font-size="15.5" fill="#161b26" font-weight="700" textLength="27" lengthAdjust="spacingAndGlyphs">420</text>
<rect x="948.5" y="585" width="12.5" height="12" rx="2" fill="#d4a444"/>
<text x="968" y="596.3" font-size="15" fill="#1f2430" stroke="#1f2430" stroke-width="0.3" stroke-linejoin="round" textLength="80.3" lengthAdjust="spacingAndGlyphs">Linkedin Ads</text>
<text x="1063.7" y="596.6" font-size="15.5" fill="#161b26" font-weight="700" textLength="27" lengthAdjust="spacingAndGlyphs">180</text>
<rect x="942" y="618.8" width="12.5" height="12" rx="2" fill="#3d8a86"/>
<text x="960" y="629.6" font-size="15" fill="#1f2430" stroke="#1f2430" stroke-width="0.3" stroke-linejoin="round" textLength="100" lengthAdjust="spacingAndGlyphs">Email Marketing</text>
<text x="1065.5" y="630.6" font-size="15.5" fill="#161b26" font-weight="700" textLength="27" lengthAdjust="spacingAndGlyphs">400</text>
<rect x="939.2" y="650.3" width="12.5" height="12" rx="2" fill="#3566b8"/>
<text x="959.2" y="661" font-size="15" fill="#1f2430" stroke="#1f2430" stroke-width="0.3" stroke-linejoin="round" textLength="95.5" lengthAdjust="spacingAndGlyphs">Organic Search</text>
<text x="1065.5" y="661.7" font-size="15.5" fill="#161b26" font-weight="700" textLength="27" lengthAdjust="spacingAndGlyphs">300</text>
<rect x="0" y="689" width="1152" height="79" fill="url(#ftr)"/>
<rect x="0" y="690" width="1152" height="46" fill="#6a7f9c" opacity="0.10"/>
<rect x="0" y="687.8" width="1152" height="1.3" fill="#f0f5f9"/>
<rect x="0" y="689.1" width="1152" height="1.6" fill="#1f2e48"/>
<rect x="39" y="735.6" width="1084" height="1.3" fill="#1d3150" opacity="0.9"/>
<rect x="39" y="737.7" width="1084" height="1.4" fill="#8399ba" opacity="0.9"/>
<rect x="397" y="694" width="1" height="42" fill="#5f7899" opacity="0.7"/>
<rect x="713.5" y="694" width="1" height="42" fill="#5f7899" opacity="0.7"/>
<text x="154" y="720" font-size="20" fill="#eef3fa" stroke="#eef3fa" stroke-width="0.3" stroke-linejoin="round" textLength="108" lengthAdjust="spacingAndGlyphs">Total Leads:</text>
<text x="282" y="722.5" font-size="24" fill="#f2f6fb" font-weight="700" textLength="65" lengthAdjust="spacingAndGlyphs">1,650</text>
<text x="438" y="719" font-size="19" fill="#eef3fa" stroke="#eef3fa" stroke-width="0.3" stroke-linejoin="round" textLength="149" lengthAdjust="spacingAndGlyphs">Avg. Cost Per Lead</text>
<text x="600.3" y="716.5" font-size="14.5" fill="#eef3fa" stroke="#eef3fa" stroke-width="0.6" stroke-linejoin="round">$</text>
<text x="612" y="723" font-size="24" fill="#f2f6fb" font-weight="700" textLength="65" lengthAdjust="spacingAndGlyphs">12.85</text>
<text x="757" y="719" font-size="19" fill="#eef3fa" stroke="#eef3fa" stroke-width="0.3" stroke-linejoin="round" textLength="157" lengthAdjust="spacingAndGlyphs">Total Pipeline Value</text>
<text x="925.8" y="716.5" font-size="14.5" fill="#eef3fa" stroke="#eef3fa" stroke-width="0.6" stroke-linejoin="round">$</text>
<text x="937" y="723" font-size="24" fill="#f2f6fb" font-weight="700" textLength="100" lengthAdjust="spacingAndGlyphs">485,000</text>
</svg>
</body></html>
